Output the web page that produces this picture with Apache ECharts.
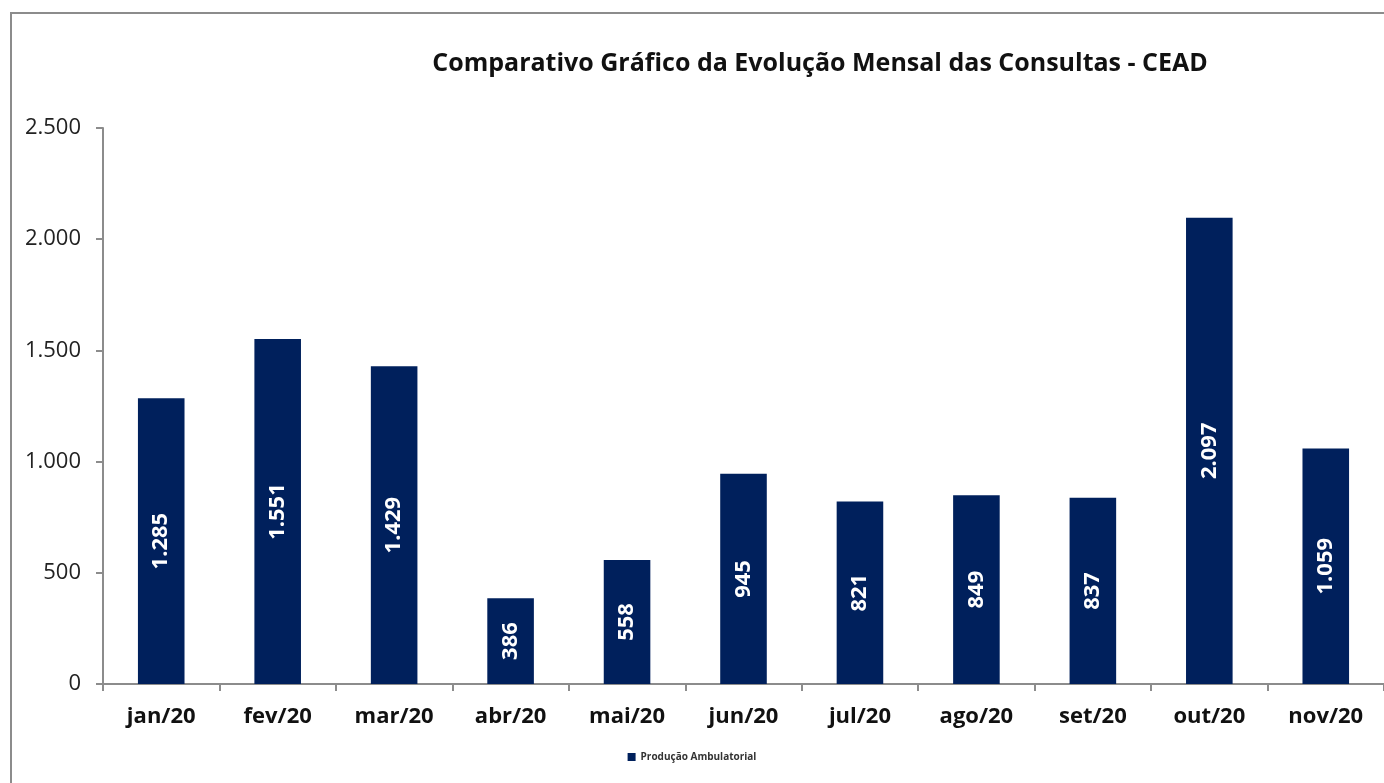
<!DOCTYPE html>
<html>
<head>
    <meta charset="UTF-8">
    <title>Comparativo Gráfico da Evolução Mensal das Consultas - CEAD</title>
    <style>
        html, body { margin: 0; padding: 0; background: #fff; overflow: hidden; }
        #frame {
            position: absolute;
            left: 10px;
            top: 12px;
            width: 1400px;
            height: 800px;
            border: 2px solid #8c8c8c;
        }
        #box {
            position: absolute;
            left: 0;
            top: 0;
            width: 1384px;
            height: 783px;
        }
    </style>
    <script src="https://cdn.jsdelivr.net/npm/echarts@6/dist/echarts.min.js"></script>
</head>
<body>
<div id="frame"></div>
<div id="box"></div>
<script>
    var months = ['jan/20', 'fev/20', 'mar/20', 'abr/20', 'mai/20', 'jun/20', 'jul/20', 'ago/20', 'set/20', 'out/20', 'nov/20'];
    var consultas = [1285, 1551, 1429, 386, 558, 945, 821, 849, 837, 2097, 1059];
    var yTicks = [0, 500, 1000, 1500, 2000, 2500];

    // 1.285 style thousands
    function fmt(v) {
        return String(v).replace(/\B(?=(\d{3})+(?!\d))/g, '.');
    }

    var font = '"Open Sans", "Noto Sans", sans-serif';
    var myChart = echarts.init(document.getElementById('box'));
    var option = {
        backgroundColor: 'transparent',
        animation: false,
        title: {
            text: 'Comparativo Gráfico da Evolução Mensal das Consultas - CEAD',
            left: 815,
            textAlign: 'center',
            top: 46,
            textStyle: {
                fontFamily: font,
                fontSize: 25,
                fontWeight: 'bold',
                color: '#111'
            }
        },
        legend: {
            data: ['Produção Ambulatorial'],
            left: 'center',
            bottom: 16,
            itemWidth: 8,
            itemHeight: 8,
            itemGap: 4,
            icon: 'rect',
            textStyle: {
                fontFamily: font,
                fontSize: 10,
                fontWeight: 'bold',
                color: '#333'
            }
        },
        grid: {
            left: 103,
            right: 0,
            top: 128,
            bottom: 99,
            containLabel: false
        },
        xAxis: {
            type: 'category',
            data: months,
            axisLine: { lineStyle: { color: '#8c8c8c', width: 2 } },
            axisTick: { show: true, length: 7, inside: false, lineStyle: { color: '#8c8c8c', width: 2 } },
            axisLabel: {
                margin: 22,
                fontFamily: font,
                fontSize: 22,
                fontWeight: 'bold',
                color: '#111'
            }
        },
        yAxis: {
            type: 'value',
            min: yTicks[0],
            max: yTicks[yTicks.length - 1],
            interval: 500,
            splitLine: { show: false },
            axisLine: { show: true, lineStyle: { color: '#8c8c8c', width: 2 } },
            axisTick: { show: true, length: 7, lineStyle: { color: '#8c8c8c', width: 2 } },
            axisLabel: {
                margin: 22,
                fontFamily: font,
                fontSize: 22,
                color: '#222',
                formatter: function (v) { return fmt(v); }
            }
        },
        series: [
            {
                name: 'Produção Ambulatorial',
                type: 'bar',
                data: consultas,
                barWidth: '40%',
                itemStyle: { color: '#00205c' },
                label: {
                    show: true,
                    position: 'inside',
                    rotate: 90,
                    fontFamily: font,
                    fontSize: 22,
                    fontWeight: 'bold',
                    color: '#fff',
                    formatter: function (p) { return fmt(p.value); }
                }
            }
        ]
    };
    myChart.setOption(option);
</script>
</body>
</html>
